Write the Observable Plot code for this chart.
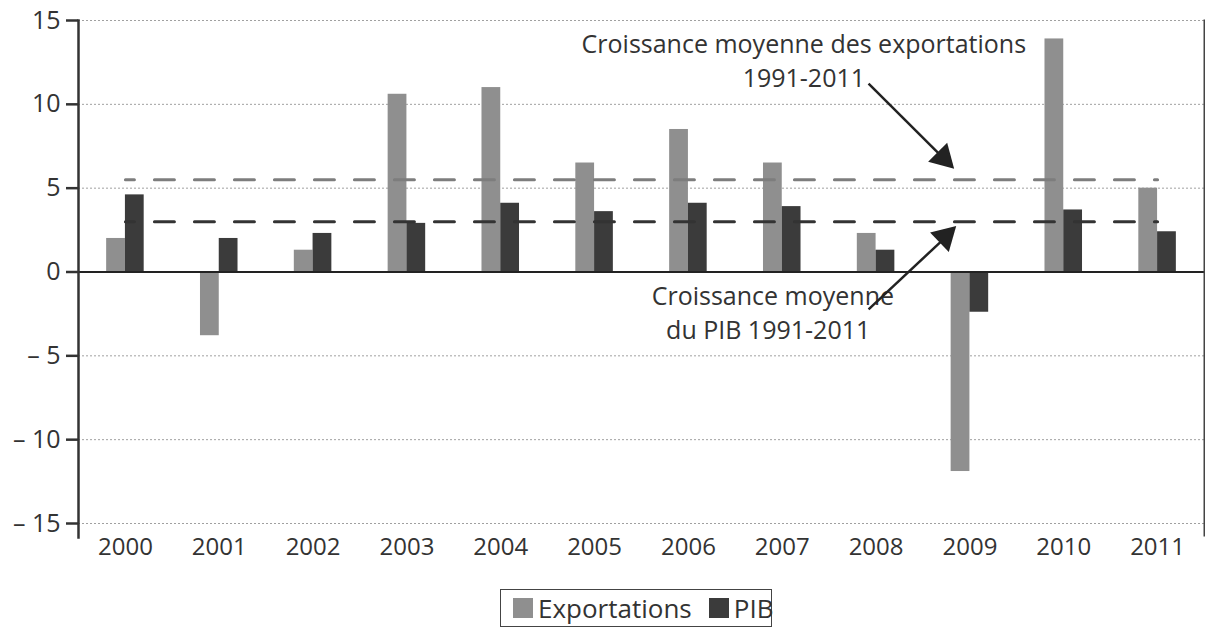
<!DOCTYPE html>
<html>
<head>
<meta charset="utf-8">
<script src="https://cdn.jsdelivr.net/npm/d3@7"></script>
<script src="https://cdn.jsdelivr.net/npm/@observablehq/plot@0.6"></script>
<style>
  html, body { margin: 0; padding: 0; background: #fff; }
  body { font-family: "Open Sans", Lato, sans-serif; color: #333; width: 1205px; }
  #legend-wrap { width: 1205px; height: 43px; position: relative; }
  #legend { position: absolute; left: 500px; top: 4px; width: 272px; height: 38px; box-sizing: border-box;
            border: 1.5px solid #444; display: flex; align-items: center; padding: 0 0 0 12px;
            font-size: 26px; color: #333; white-space: nowrap; }
  .sw { width: 20px; height: 20px; display: inline-block; margin-right: 5px; }
  .item { display: flex; align-items: center; }
  .item + .item { margin-left: 17px; }
</style>
</head>
<body>
<div id="chart"></div>
<div id="legend-wrap"><div id="legend"></div></div>
<script>
// ---- data ----
const years = [2000, 2001, 2002, 2003, 2004, 2005, 2006, 2007, 2008, 2009, 2010, 2011];
const exportations = [2.0, -3.8, 1.3, 10.6, 11.0, 6.5, 8.5, 6.5, 2.3, -11.9, 13.9, 5.0];
const pib = [4.6, 2.0, 2.3, 2.9, 4.1, 3.6, 4.1, 3.9, 1.3, -2.4, 3.7, 2.4];
const meanExportations = 5.5;
const meanPib = 3.0;
const seriesNames = ["Exportations", "PIB"];
const seriesColors = ["#8f8f8f", "#3b3b3b"];
const yTicks = [-15, -10, -5, 0, 5, 10, 15];
const gridTicks = [-15, -10, -5, 5, 10, 15];
const annotationLines = ["Croissance moyenne des exportations", "1991-2011", "Croissance moyenne", "du PIB 1991-2011"];

// ---- tables built from the arrays ----
const expRows = years.map((year, i) => ({year, value: exportations[i]}));
const pibRows = years.map((year, i) => ({year, value: pib[i]}));
const meanExpRows = years.map(year => ({year, value: meanExportations}));
const meanPibRows = years.map(year => ({year, value: meanPib}));

const annotations = [
  {text: annotationLines[0], x: 2007.23, y: 13.54},
  {text: annotationLines[1], x: 2007.23, y: 11.51},
  {text: annotationLines[2], x: 2006.90, y: -1.51},
  {text: annotationLines[3], x: 2006.85, y: -3.53}
];
const arrows = [
  {x1: 2007.92, y1: 11.24, x2: 2008.72, y2: 6.78, rotate: 135, dx: -11, dy: -11},
  {x1: 2007.92, y1: -2.23, x2: 2008.74, y2: 2.07, rotate: 46, dx: -11.3, dy: 10.7}
];

const fmtY = d => d < 0 ? "\u2013 " + (-d) : String(d);

const chart = Plot.plot({
  width: 1205,
  height: 585,
  marginLeft: 78,
  marginRight: 1,
  marginTop: 20,
  marginBottom: 62,
  style: {fontFamily: "'Open Sans', Lato, sans-serif", fontSize: "25px", color: "#333", background: "#fff", overflow: "visible"},
  x: {domain: [1999.5, 2011.5], axis: null},
  y: {domain: [-15, 15], axis: null},
  marks: [
    Plot.ruleY(gridTicks, {stroke: "#a0a0a0", strokeWidth: 1, strokeDasharray: "2,2"}),
    Plot.rectY(expRows, {x1: d => d.year - 0.2, x2: d => d.year, y1: 0, y2: "value", fill: seriesColors[0]}),
    Plot.rectY(pibRows, {x1: d => d.year, x2: d => d.year + 0.2, y1: 0, y2: "value", fill: seriesColors[1]}),
    Plot.ruleY([0], {stroke: "#222", strokeWidth: 2}),
    Plot.lineY(meanExpRows, {x: "year", y: "value", stroke: "#7d7d7d", strokeWidth: 3, strokeDasharray: "20,20", strokeDashoffset: 11}),
    Plot.lineY(meanPibRows, {x: "year", y: "value", stroke: "#333", strokeWidth: 3, strokeDasharray: "20,20", strokeDashoffset: 11}),
    Plot.frame({anchor: "left", stroke: "#333", strokeWidth: 2.5, insetBottom: -14}),
    Plot.frame({anchor: "right", stroke: "#444", strokeWidth: 2, insetBottom: -12}),
    Plot.axisY({ticks: yTicks, tickSize: 12, tickPadding: 6, tickFormat: fmtY, strokeWidth: 2.5, fontSize: 25}),
    Plot.axisX({ticks: years, tickSize: 0, tickPadding: 14, tickFormat: d => String(d), fontSize: 24}),
    Plot.text(annotations, {x: "x", y: "y", text: "text", fontSize: 25, textAnchor: "middle", fill: "#333"}),
    Plot.link(arrows, {x1: "x1", y1: "y1", x2: "x2", y2: "y2", stroke: "#222", strokeWidth: 2.5}),
    Plot.dot(arrows, {x: "x2", y: "y2", symbol: "triangle", r: 10, fill: "#222", stroke: "none", rotate: "rotate", dx: "dx", dy: "dy"})
  ]
});
document.getElementById("chart").appendChild(chart);

const legend = document.getElementById("legend");
seriesNames.forEach((name, i) => {
  const item = document.createElement("div");
  item.className = "item";
  const sw = document.createElement("span");
  sw.className = "sw";
  sw.style.background = seriesColors[i];
  const label = document.createElement("span");
  label.textContent = name;
  item.appendChild(sw);
  item.appendChild(label);
  legend.appendChild(item);
});
</script>
</body>
</html>
